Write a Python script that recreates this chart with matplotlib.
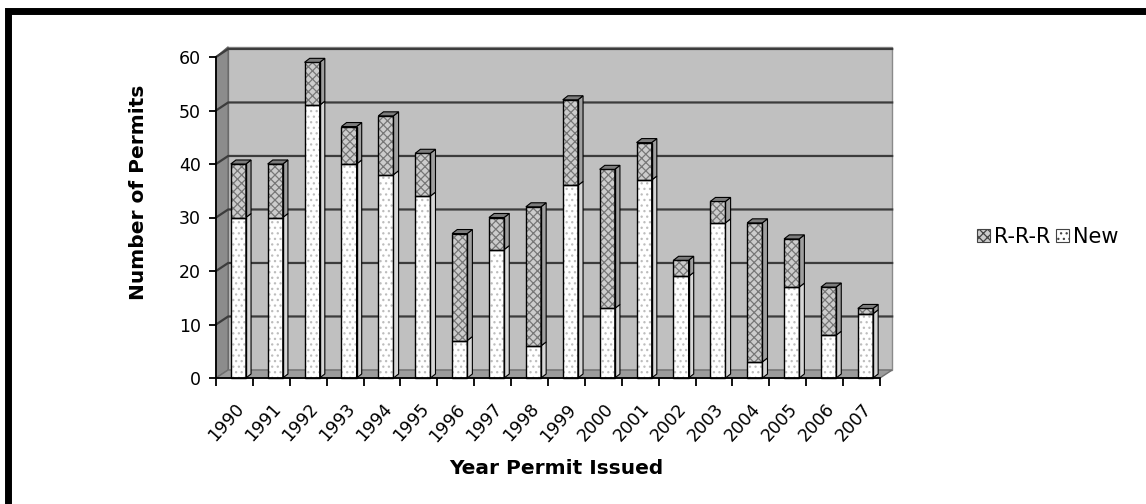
import matplotlib
matplotlib.use("Agg")
import matplotlib.pyplot as plt
from matplotlib.patches import Polygon, Rectangle, Patch

years = [str(y) for y in range(1990, 2008)]
new_permits = [30, 30, 51, 40, 38, 34, 7, 24, 6, 36, 13, 37, 19, 29, 3, 17, 8, 12]
rrr_permits = [10, 10, 8, 7, 11, 8, 20, 6, 26, 16, 26, 7, 3, 4, 26, 9, 9, 1]
y_ticks = [0, 10, 20, 30, 40, 50, 60]

plt.rcParams['font.family'] = ['DejaVu Sans']
plt.rcParams['hatch.linewidth'] = 0.9

fig = plt.figure(figsize=(11.46, 5.04), dpi=100)
ax = fig.add_axes([216 / 1146, 1 - 378 / 504, 664 / 1146, 321 / 504])
n = len(years)
ax.set_xlim(0, n)
ax.set_ylim(0, 60)

# depth of the walls and of the columns, in data units
wdx, wdy = 0.33, 1.5
bdx, bdy = 0.14, 0.75
bw = 0.41
off = 0.40

# walls and floor
ax.add_patch(Polygon([(wdx, wdy), (n + wdx, wdy), (n + wdx, 60 + wdy + 0.4), (wdx, 60 + wdy + 0.4)],
                     closed=True, facecolor='#c0c0c0', edgecolor='#8a8a8a', lw=1, clip_on=False, zorder=0))
ax.add_patch(Polygon([(0, 0), (wdx, wdy), (wdx, 60 + wdy + 0.4), (0, 60)],
                     closed=True, facecolor='#8c8c8c', edgecolor='#666666', lw=1, clip_on=False, zorder=0))
ax.add_patch(Polygon([(0, 0), (n, 0), (n + wdx, wdy), (wdx, wdy)],
                     closed=True, facecolor='#9c9c9c', edgecolor='#707070', lw=1, clip_on=False, zorder=0.5))
for t in y_ticks[1:]:
    ax.plot([0, wdx, n + wdx], [t, t + wdy, t + wdy], color='#3c3c3c', lw=1.6, clip_on=False, zorder=0.6)


def column(x0, y0, y1, face, hatch, hcolor, side):
    ax.bar(x0, y1 - y0, bottom=y0, width=bw, align='edge', color=face, hatch=hatch,
           edgecolor=hcolor, lw=0, zorder=2, clip_on=False)
    ax.bar(x0, y1 - y0, bottom=y0, width=bw, align='edge', fill=False,
           edgecolor='black', lw=1, zorder=3, clip_on=False)
    x1 = x0 + bw
    ax.add_patch(Polygon([(x1, y0), (x1 + bdx, y0 + bdy), (x1 + bdx, y1 + bdy), (x1, y1)],
                         closed=True, facecolor=side, edgecolor='black', lw=0.8, zorder=2, clip_on=False))


for i in range(n):
    x0 = i + off
    tot = new_permits[i] + rrr_permits[i]
    column(x0, 0, new_permits[i], 'white', '...', '#bdbdbd', '#d6d6d6')
    column(x0, new_permits[i], tot, '#cccccc', 'xxxx', '#777777', '#a0a0a0')
    ax.add_patch(Polygon([(x0, tot), (x0 + bdx, tot + bdy), (x0 + bw + bdx, tot + bdy), (x0 + bw, tot)],
                         closed=True, facecolor='#7c7c7c', edgecolor='black', lw=0.8, zorder=3, clip_on=False))

# axes
for s in ['top', 'right']:
    ax.spines[s].set_visible(False)
ax.spines['left'].set_linewidth(1.3)
ax.spines['bottom'].set_linewidth(1.3)
ax.spines['left'].set_zorder(5)
ax.spines['bottom'].set_zorder(5)
ax.set_yticks(y_ticks)
ax.tick_params(axis='y', direction='out', length=5, width=1.3, pad=6, labelsize=12.5)
ax.set_xticks(range(n + 1))
ax.set_xticklabels([])
ax.tick_params(axis='x', which='major', direction='out', length=6, width=1.3)
ax.set_xticks([i + 0.5 for i in range(n)], minor=True)
ax.set_xticklabels(years, minor=True, rotation=48, ha='right', va='top', rotation_mode='anchor')
ax.tick_params(axis='x', which='minor', length=0, pad=16, labelsize=12.5)
ax.set_facecolor('none')

fig.text(138 / 1146, 1 - 192 / 504, 'Number of Permits', rotation=90, ha='center', va='center',
         fontsize=14.5, fontweight='bold')
fig.text(556 / 1146, 1 - 469 / 504, 'Year Permit Issued', ha='center', va='center',
         fontsize=14.5, fontweight='bold')

handles = [Patch(facecolor='#cccccc', edgecolor='#444444', hatch='xxxx', lw=0.8),
           Patch(facecolor='white', edgecolor='#444444', hatch='...', lw=0.8)]
fig.legend(handles, ['R-R-R', 'New'], loc='center left', bbox_to_anchor=(977 / 1146, 1 - 237 / 504),
           ncol=2, frameon=False, fontsize=15, handlelength=0.6, handleheight=0.6,
           handletextpad=0.2, columnspacing=0.3, borderpad=0, borderaxespad=0)

# outer frame (runs past the right and bottom edges)
fig.add_artist(Rectangle((7.5 / 1146, -0.1), 1.2, 1.1 - 11 / 504, transform=fig.transFigure,
                         fill=False, edgecolor='black', lw=5))

fig.savefig('out.png', dpi=100)
